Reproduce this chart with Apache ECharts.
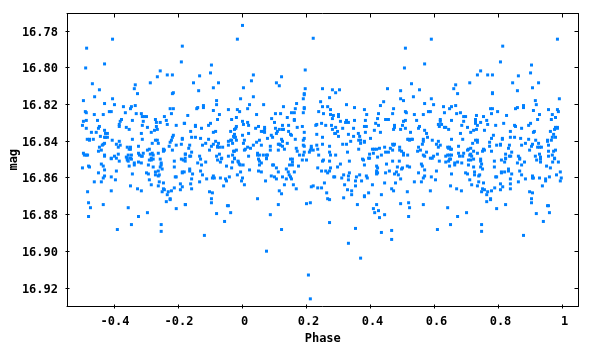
<!DOCTYPE html>
<html><head><meta charset="utf-8">
<script src="https://cdn.jsdelivr.net/npm/echarts@6/dist/echarts.min.js"></script>
<style>html,body{margin:0;padding:0;background:#fff}#c{width:600px;height:350px}</style>
</head><body><div id="c"></div>
<script>
const magTicks = [16.78,16.80,16.82,16.84,16.86,16.88,16.90,16.92];
const phaseTicks = [-0.4,-0.2,0,0.2,0.4,0.6,0.8,1];
// [phase, mag]
const upperLeft = [[-0.406,16.7843],[-0.487,16.7892],[-0.188,16.7881],[-0.431,16.7978],[-0.191,16.7967],[-0.490,16.8000],[-0.257,16.8016],[-0.235,16.8038],[-0.219,16.8038],[-0.266,16.8048],[-0.288,16.8081],[-0.469,16.8086],[-0.335,16.8092],[-0.338,16.8113],[-0.447,16.8119],[-0.216,16.8135],[-0.219,16.8140],[-0.328,16.8140],[-0.462,16.8157],[-0.406,16.8168],[-0.497,16.8178],[-0.431,16.8194],[-0.400,16.8200],[-0.372,16.8211],[-0.347,16.8211],[-0.335,16.8205],[-0.350,16.8222],[-0.226,16.8222],[-0.216,16.8222],[-0.416,16.8238],[-0.410,16.8238],[-0.491,16.8238],[-0.488,16.8244],[-0.332,16.8249],[-0.463,16.8254],[-0.435,16.8254],[-0.316,16.8249],[-0.366,16.8244],[-0.222,16.8249],[-0.313,16.8265],[-0.307,16.8265],[-0.300,16.8265],[-0.244,16.8265],[-0.272,16.8281],[-0.378,16.8281],[-0.453,16.8286],[-0.344,16.8286],[-0.488,16.8286],[-0.497,16.8291],[-0.310,16.8291],[-0.238,16.8286],[-0.382,16.8291],[-0.269,16.8297],[-0.257,16.8297],[-0.182,16.8302],[-0.500,16.8313],[-0.385,16.8308],[-0.385,16.8319],[-0.313,16.8313],[-0.447,16.8319],[-0.363,16.8324],[-0.297,16.8324],[-0.269,16.8319],[-0.235,16.8308],[-0.207,16.8313],[-0.450,16.8329],[-0.488,16.8329],[-0.354,16.8335],[-0.431,16.8340],[-0.266,16.8335],[-0.275,16.8340],[-0.285,16.8351],[-0.472,16.8351],[-0.457,16.8351],[-0.428,16.8357],[-0.422,16.8357],[-0.316,16.8357],[-0.216,16.8367],[-0.444,16.8373],[-0.428,16.8378],[-0.219,16.8378],[-0.485,16.8389],[-0.478,16.8389],[-0.478,16.8394],[-0.466,16.8389],[-0.431,16.8378],[-0.422,16.8378],[-0.407,16.8394],[-0.385,16.8400],[-0.344,16.8389],[-0.313,16.8389],[-0.272,16.8394],[-0.266,16.8394],[-0.222,16.8394],[-0.226,16.8405],[-0.188,16.8384],[-0.188,16.8389],[-0.431,16.8411],[-0.435,16.8416],[-0.438,16.8421],[-0.394,16.8416],[-0.382,16.8421],[-0.282,16.8411],[-0.263,16.8411],[-0.229,16.8427],[-0.207,16.8421],[-0.191,16.8416],[-0.447,16.8432],[-0.388,16.8432],[-0.360,16.8432],[-0.350,16.8432],[-0.354,16.8443],[-0.350,16.8443],[-0.325,16.8427],[-0.291,16.8443],[-0.247,16.8443],[-0.244,16.8448],[-0.247,16.8454],[-0.441,16.8448],[-0.450,16.8454],[-0.297,16.8448],[-0.497,16.8465],[-0.494,16.8475],[-0.488,16.8475],[-0.484,16.8475],[-0.431,16.8475],[-0.431,16.8481],[-0.388,16.8470],[-0.357,16.8475],[-0.347,16.8475],[-0.325,16.8465],[-0.322,16.8475],[-0.310,16.8465],[-0.316,16.8481],[-0.288,16.8470],[-0.282,16.8465],[-0.279,16.8475],[-0.263,16.8465],[-0.219,16.8448],[-0.179,16.8470],[-0.400,16.8481],[-0.363,16.8486],[-0.410,16.8492],[-0.394,16.8492],[-0.360,16.8492],[-0.350,16.8492],[-0.313,16.8481],[-0.285,16.8492],[-0.179,16.8492]];
const lowerLeft = [[-0.500,16.8545],[-0.481,16.8535],[-0.478,16.8540],[-0.441,16.8524],[-0.435,16.8535],[-0.431,16.8556],[-0.450,16.8572],[-0.431,16.8589],[-0.435,16.8600],[-0.410,16.8594],[-0.463,16.8621],[-0.441,16.8621],[-0.397,16.8610],[-0.394,16.8562],[-0.410,16.8495],[-0.385,16.8508],[-0.360,16.8502],[-0.347,16.8497],[-0.357,16.8508],[-0.354,16.8535],[-0.338,16.8518],[-0.338,16.8529],[-0.325,16.8513],[-0.316,16.8518],[-0.344,16.8578],[-0.300,16.8572],[-0.294,16.8578],[-0.294,16.8529],[-0.291,16.8502],[-0.285,16.8502],[-0.279,16.8497],[-0.279,16.8540],[-0.272,16.8567],[-0.263,16.8562],[-0.272,16.8583],[-0.263,16.8589],[-0.260,16.8583],[-0.257,16.8497],[-0.254,16.8518],[-0.254,16.8529],[-0.257,16.8540],[-0.251,16.8551],[-0.291,16.8610],[-0.260,16.8621],[-0.247,16.8627],[-0.285,16.8637],[-0.263,16.8643],[-0.350,16.8643],[-0.328,16.8659],[-0.316,16.8670],[-0.410,16.8670],[-0.484,16.8675],[-0.251,16.8675],[-0.244,16.8664],[-0.247,16.8659],[-0.232,16.8675],[-0.222,16.8670],[-0.235,16.8691],[-0.213,16.8654],[-0.194,16.8632],[-0.188,16.8648],[-0.194,16.8664],[-0.213,16.8540],[-0.213,16.8508],[-0.188,16.8567],[-0.188,16.8572],[-0.182,16.8567],[-0.210,16.8594],[-0.207,16.8594],[-0.191,16.8497],[-0.185,16.8502],[-0.179,16.8508],[-0.481,16.8735],[-0.475,16.8762],[-0.435,16.8745],[-0.481,16.8810],[-0.357,16.8762],[-0.325,16.8810],[-0.297,16.8789],[-0.347,16.8854],[-0.391,16.8881],[-0.254,16.8854],[-0.254,16.8891],[-0.238,16.8729],[-0.226,16.8713],[-0.226,16.8718],[-0.207,16.8767],[-0.179,16.8745]];
const upperMiddle = [[0,16.7768],[-0.016,16.7843],[0.221,16.7838],[-0.097,16.7984],[-0.100,16.8027],[0.196,16.8011],[-0.134,16.8043],[0.034,16.8038],[0.122,16.8048],[-0.075,16.8081],[-0.153,16.8081],[0.028,16.8070],[0.106,16.8081],[0.115,16.8097],[-0.091,16.8108],[0.003,16.8108],[-0.137,16.8124],[0.196,16.8113],[0.193,16.8140],[0.193,16.8146],[0.190,16.8168],[0.034,16.8157],[-0.006,16.8168],[-0.081,16.8178],[-0.081,16.8200],[0.022,16.8200],[0.066,16.8200],[0.169,16.8194],[-0.140,16.8216],[-0.143,16.8222],[-0.122,16.8205],[-0.122,16.8216],[0.128,16.8211],[0.016,16.8222],[0.165,16.8222],[0.193,16.8216],[0.193,16.8222],[-0.044,16.8227],[-0.016,16.8227],[-0.091,16.8232],[-0.009,16.8238],[0.153,16.8244],[0.162,16.8244],[0.190,16.8244],[0.044,16.8254],[0.103,16.8249],[0.119,16.8249],[-0.072,16.8254],[-0.171,16.8259],[-0.019,16.8270],[-0.078,16.8281],[-0.034,16.8281],[0.091,16.8276],[0.140,16.8270],[0.162,16.8281],[0.162,16.8286],[0,16.8291],[-0.181,16.8302],[-0.100,16.8302],[0.003,16.8308],[0.016,16.8297],[0.019,16.8313],[0.100,16.8297],[-0.147,16.8313],[-0.147,16.8319],[-0.106,16.8313],[-0.128,16.8329],[0.050,16.8319],[0.069,16.8324],[0.069,16.8335],[0.041,16.8329],[0.171,16.8324],[0.187,16.8319],[0.103,16.8329],[0.125,16.8313],[0.144,16.8313],[-0.021,16.8329],[-0.019,16.8319],[-0.025,16.8335],[0.115,16.8335],[0.125,16.8335],[0.128,16.8335],[-0.037,16.8346],[-0.084,16.8346],[-0.091,16.8351],[-0.162,16.8346],[0.059,16.8346],[0.065,16.8346],[0.069,16.8351],[0.109,16.8346],[0.106,16.8357],[0.144,16.8346],[0.150,16.8362],[0.153,16.8367],[-0.025,16.8362],[0.019,16.8357],[0.193,16.8351],[0,16.8367],[-0.028,16.8373],[-0.022,16.8378],[-0.025,16.8378],[-0.159,16.8378],[-0.147,16.8378],[-0.131,16.8384],[-0.106,16.8389],[0.078,16.8384],[0.090,16.8367],[0.094,16.8378],[0.122,16.8389],[0.125,16.8400],[0.053,16.8394],[0.044,16.8405],[0.006,16.8394],[0.003,16.8411],[-0.044,16.8400],[-0.037,16.8394],[-0.034,16.8394],[-0.031,16.8411],[-0.019,16.8394],[-0.084,16.8400],[-0.075,16.8411],[-0.115,16.8411],[-0.091,16.8416],[-0.125,16.8421],[-0.097,16.8427],[-0.078,16.8427],[-0.078,16.8432],[-0.072,16.8432],[-0.062,16.8432],[-0.044,16.8421],[0.034,16.8421],[0.059,16.8421],[0.087,16.8427],[0.112,16.8416],[0.115,16.8416],[0.119,16.8421],[0.125,16.8427],[0.140,16.8411],[0.165,16.8389],[0.193,16.8384],[0.190,16.8394],[0.190,16.8421],[0.193,16.8427],[0.215,16.8427],[0.215,16.8438],[0.212,16.8448],[0.221,16.8448],[0.168,16.8438],[0.171,16.8454],[-0.165,16.8421],[-0.168,16.8438],[0.016,16.8432],[0.025,16.8438],[-0.103,16.8448],[0.006,16.8448],[0.009,16.8443],[-0.019,16.8448],[-0.028,16.8454],[-0.025,16.8454],[0.087,16.8448],[0.112,16.8448],[0.131,16.8443],[-0.159,16.8459],[-0.178,16.8470],[-0.165,16.8481],[-0.162,16.8481],[-0.134,16.8481],[-0.081,16.8481],[-0.072,16.8470],[-0.065,16.8492],[-0.044,16.8481],[-0.031,16.8475],[-0.025,16.8492],[0.019,16.8481],[0.047,16.8465],[0.047,16.8475],[0.053,16.8475],[0.065,16.8475],[0.075,16.8475],[0.078,16.8475],[0.075,16.8492],[0.178,16.8475],[0.190,16.8475],[0.193,16.8459],[0.209,16.8459]];
const lowerMiddle = [[-0.165,16.8551],[-0.165,16.8562],[-0.156,16.8578],[-0.131,16.8562],[-0.125,16.8583],[-0.159,16.8605],[-0.162,16.8632],[-0.159,16.8659],[-0.112,16.8605],[-0.134,16.8621],[-0.091,16.8589],[-0.094,16.8600],[-0.088,16.8600],[-0.069,16.8600],[-0.053,16.8605],[-0.050,16.8616],[-0.041,16.8594],[-0.059,16.8643],[-0.140,16.8518],[-0.128,16.8529],[-0.115,16.8513],[-0.131,16.8497],[-0.078,16.8502],[-0.069,16.8513],[-0.066,16.8495],[-0.050,16.8535],[-0.034,16.8545],[-0.031,16.8513],[-0.013,16.8513],[-0.025,16.8495],[-0.014,16.8508],[-0.010,16.8524],[-0.007,16.8529],[0.002,16.8529],[-0.006,16.8567],[-0.016,16.8583],[0,16.8600],[-0.003,16.8616],[0.022,16.8556],[0.006,16.8637],[0.050,16.8497],[0.053,16.8508],[0.059,16.8518],[0.053,16.8529],[0.050,16.8562],[0.059,16.8567],[0.075,16.8495],[0.072,16.8616],[0.094,16.8529],[0.097,16.8529],[0.106,16.8545],[0.112,16.8567],[0.090,16.8589],[0.100,16.8594],[0.106,16.8605],[0.125,16.8594],[0.137,16.8605],[0.131,16.8637],[0.137,16.8551],[0.143,16.8567],[0.146,16.8583],[0.150,16.8594],[0.153,16.8605],[0.147,16.8529],[0.156,16.8529],[0.156,16.8513],[0.156,16.8497],[0.150,16.8497],[0.162,16.8567],[0.175,16.8535],[0.159,16.8637],[0.168,16.8659],[0.187,16.8502],[0.200,16.8502],[0.215,16.8648],[0.221,16.8643],[0.115,16.8670],[0.122,16.8686],[0.047,16.8713],[-0.103,16.8675],[-0.094,16.8681],[-0.097,16.8713],[-0.097,16.8735],[-0.178,16.8745],[-0.047,16.8751],[-0.044,16.8751],[-0.037,16.8789],[-0.081,16.8794],[-0.056,16.8837],[-0.119,16.8913],[0.112,16.8745],[0.087,16.8800],[0.122,16.8881],[0.075,16.8999],[0.206,16.9129],[0.212,16.9259],[0.200,16.8740],[0.212,16.8735]];
const upperRight = [[0.590,16.7843],[0.509,16.7892],[0.569,16.7978],[0.506,16.8000],[0.528,16.8086],[0.250,16.8113],[0.281,16.8119],[0.303,16.8119],[0.291,16.8135],[0.453,16.8113],[0.494,16.8124],[0.553,16.8119],[0.272,16.8162],[0.494,16.8168],[0.503,16.8178],[0.534,16.8157],[0.244,16.8184],[0.441,16.8184],[0.569,16.8194],[0.590,16.8168],[0.597,16.8200],[0.250,16.8211],[0.266,16.8211],[0.350,16.8216],[0.325,16.8200],[0.431,16.8205],[0.472,16.8222],[0.628,16.8211],[0.275,16.8227],[0.381,16.8227],[0.238,16.8238],[0.253,16.8249],[0.275,16.8254],[0.284,16.8259],[0.300,16.8254],[0.300,16.8265],[0.281,16.8276],[0.388,16.8254],[0.425,16.8249],[0.469,16.8249],[0.509,16.8238],[0.512,16.8244],[0.537,16.8254],[0.565,16.8254],[0.581,16.8238],[0.587,16.8238],[0.631,16.8244],[0.422,16.8276],[0.447,16.8281],[0.456,16.8281],[0.350,16.8286],[0.325,16.8286],[0.306,16.8291],[0.322,16.8297],[0.331,16.8297],[0.384,16.8286],[0.416,16.8302],[0.425,16.8313],[0.503,16.8291],[0.509,16.8286],[0.544,16.8286],[0.618,16.8281],[0.618,16.8291],[0.247,16.8302],[0.232,16.8308],[0.229,16.8313],[0.260,16.8313],[0.278,16.8313],[0.291,16.8324],[0.313,16.8329],[0.347,16.8329],[0.381,16.8319],[0.387,16.8319],[0.475,16.8313],[0.475,16.8324],[0.500,16.8313],[0.472,16.8335],[0.494,16.8335],[0.509,16.8329],[0.553,16.8319],[0.550,16.8329],[0.612,16.8308],[0.622,16.8308],[0.615,16.8319],[0.631,16.8324],[0.281,16.8335],[0.297,16.8346],[0.288,16.8357],[0.291,16.8357],[0.232,16.8362],[0.331,16.8362],[0.347,16.8373],[0.362,16.8357],[0.366,16.8373],[0.384,16.8351],[0.412,16.8340],[0.431,16.8351],[0.569,16.8340],[0.575,16.8357],[0.250,16.8378],[0.300,16.8373],[0.400,16.8384],[0.525,16.8351],[0.578,16.8378],[0.519,16.8389],[0.516,16.8389],[0.522,16.8394],[0.528,16.8389],[0.531,16.8389],[0.565,16.8389],[0.565,16.8400],[0.593,16.8394],[0.612,16.8400],[0.363,16.8394],[0.369,16.8394],[0.381,16.8400],[0.369,16.8411],[0.381,16.8405],[0.338,16.8400],[0.313,16.8416],[0.325,16.8416],[0.250,16.8416],[0.232,16.8421],[0.272,16.8427],[0.562,16.8416],[0.606,16.8416],[0.618,16.8421],[0.469,16.8416],[0.475,16.8416],[0.472,16.8421],[0.550,16.8432],[0.612,16.8432],[0.235,16.8443],[0.406,16.8443],[0.412,16.8443],[0.419,16.8443],[0.428,16.8438],[0.444,16.8432],[0.462,16.8438],[0.469,16.8448],[0.491,16.8432],[0.491,16.8448],[0.497,16.8454],[0.363,16.8443],[0.556,16.8448],[0.547,16.8454],[0.272,16.8459],[0.328,16.8459],[0.447,16.8459],[0.456,16.8459],[0.409,16.8465],[0.397,16.8470],[0.503,16.8465],[0.503,16.8475],[0.516,16.8475],[0.575,16.8459],[0.565,16.8475],[0.569,16.8481],[0.609,16.8470],[0.597,16.8481],[0.238,16.8475],[0.275,16.8475],[0.291,16.8475],[0.434,16.8475],[0.422,16.8486],[0.394,16.8492],[0.397,16.8492],[0.587,16.8492],[0.593,16.8492]];
const lowerRight = [[0.250,16.8508],[0.253,16.8502],[0.272,16.8508],[0.334,16.8508],[0.378,16.8502],[0.375,16.8497],[0.381,16.8529],[0.419,16.8535],[0.422,16.8545],[0.450,16.8524],[0.469,16.8508],[0.490,16.8508],[0.484,16.8540],[0.500,16.8545],[0.497,16.8551],[0.515,16.8535],[0.522,16.8540],[0.559,16.8524],[0.562,16.8535],[0.615,16.8508],[0.235,16.8545],[0.275,16.8545],[0.297,16.8540],[0.306,16.8524],[0.247,16.8562],[0.260,16.8562],[0.272,16.8562],[0.266,16.8572],[0.334,16.8572],[0.331,16.8589],[0.316,16.8583],[0.366,16.8583],[0.387,16.8589],[0.390,16.8600],[0.419,16.8562],[0.419,16.8572],[0.422,16.8572],[0.419,16.8578],[0.447,16.8572],[0.459,16.8562],[0.475,16.8578],[0.481,16.8567],[0.487,16.8583],[0.494,16.8605],[0.550,16.8572],[0.569,16.8556],[0.569,16.8589],[0.565,16.8600],[0.590,16.8594],[0.606,16.8562],[0.603,16.8610],[0.285,16.8594],[0.288,16.8594],[0.310,16.8600],[0.331,16.8610],[0.356,16.8594],[0.353,16.8616],[0.372,16.8616],[0.256,16.8627],[0.319,16.8637],[0.353,16.8643],[0.406,16.8637],[0.444,16.8627],[0.478,16.8627],[0.537,16.8621],[0.559,16.8621],[0.235,16.8654],[0.247,16.8654],[0.328,16.8664],[0.341,16.8670],[0.466,16.8659],[0.472,16.8670],[0.515,16.8675],[0.587,16.8670],[0.263,16.8681],[0.341,16.8691],[0.394,16.8681],[0.381,16.8697],[0.381,16.8702],[0.434,16.8691],[0.316,16.8708],[0.266,16.8713],[0.272,16.8718],[0.494,16.8740],[0.519,16.8735],[0.565,16.8745],[0.359,16.8745],[0.419,16.8745],[0.409,16.8767],[0.522,16.8762],[0.425,16.8778],[0.413,16.8789],[0.444,16.8800],[0.428,16.8816],[0.519,16.8810],[0.272,16.8843],[0.353,16.8875],[0.466,16.8886],[0.434,16.8897],[0.609,16.8881],[0.466,16.8935],[0.331,16.8956],[0.369,16.9037]];
const upperFar = [[0.984,16.7843],[0.813,16.7881],[0.806,16.7967],[0.903,16.7984],[0.744,16.8016],[0.900,16.8027],[0.734,16.8038],[0.766,16.8038],[0.781,16.8038],[0.862,16.8043],[0.710,16.8081],[0.844,16.8081],[0.925,16.8081],[0.666,16.8092],[0.660,16.8113],[0.906,16.8108],[0.859,16.8124],[0.672,16.8140],[0.781,16.8135],[0.781,16.8140],[0.990,16.8168],[0.915,16.8178],[0.918,16.8200],[0.653,16.8211],[0.666,16.8205],[0.647,16.8222],[0.775,16.8222],[0.781,16.8222],[0.853,16.8222],[0.859,16.8216],[0.878,16.8205],[0.878,16.8216],[0.956,16.8227],[0.984,16.8227],[0.987,16.8238],[0.909,16.8232],[0.797,16.8238],[0.778,16.8249],[0.669,16.8249],[0.681,16.8244],[0.928,16.8254],[0.968,16.8254],[0.691,16.8265],[0.697,16.8265],[0.731,16.8259],[0.753,16.8265],[0.825,16.8259],[0.978,16.8270],[0.965,16.8281],[0.728,16.8281],[0.728,16.8291],[0.763,16.8286],[0.653,16.8286],[0.691,16.8291],[0.922,16.8281],[0.728,16.8302],[0.744,16.8297],[0.766,16.8308],[0.816,16.8302],[0.900,16.8302],[0.685,16.8313],[0.734,16.8313],[0.791,16.8313],[0.850,16.8313],[0.853,16.8319],[0.894,16.8313],[0.635,16.8324],[0.703,16.8324],[0.872,16.8329],[0.978,16.8324],[0.984,16.8324],[0.984,16.8329],[0.644,16.8335],[0.722,16.8340],[0.731,16.8335],[0.756,16.8340],[0.975,16.8335],[0.837,16.8346],[0.912,16.8346],[0.909,16.8351],[0.962,16.8346],[0.681,16.8357],[0.713,16.8351],[0.784,16.8367],[0.837,16.8378],[0.850,16.8378],[0.812,16.8384],[0.812,16.8389],[0.869,16.8384],[0.894,16.8389],[0.778,16.8384],[0.653,16.8389],[0.688,16.8389],[0.972,16.8362],[0.968,16.8378],[0.978,16.8378],[0.916,16.8394],[0.953,16.8394],[0.953,16.8400],[0.965,16.8394],[0.728,16.8394],[0.734,16.8394],[0.734,16.8405],[0.719,16.8411],[0.772,16.8405],[0.884,16.8411],[0.872,16.8421],[0.906,16.8416],[0.925,16.8411],[0.794,16.8421],[0.806,16.8416],[0.806,16.8421],[0.834,16.8421],[0.772,16.8427],[0.675,16.8427],[0.903,16.8427],[0.956,16.8421],[0.922,16.8432],[0.928,16.8432],[0.934,16.8432],[0.831,16.8438],[0.641,16.8432],[0.647,16.8432],[0.644,16.8438],[0.650,16.8443],[0.653,16.8443],[0.713,16.8438],[0.706,16.8443],[0.703,16.8448],[0.753,16.8443],[0.750,16.8454],[0.756,16.8448],[0.778,16.8454],[0.722,16.8454],[0.897,16.8448],[0.956,16.8454],[0.978,16.8448],[0.972,16.8454],[0.841,16.8459],[0.691,16.8465],[0.675,16.8465],[0.822,16.8470],[0.734,16.8465],[0.713,16.8470],[0.928,16.8470],[0.968,16.8475],[0.956,16.8481],[0.653,16.8475],[0.647,16.8475],[0.641,16.8475],[0.635,16.8481],[0.678,16.8481],[0.688,16.8481],[0.710,16.8475],[0.716,16.8481],[0.834,16.8481],[0.838,16.8481],[0.915,16.8481],[0.931,16.8486],[0.862,16.8481],[0.975,16.8492],[0.822,16.8492],[0.866,16.8492]];
const lowerFar = [[0.647,16.8497],[0.650,16.8497],[0.644,16.8508],[0.635,16.8513],[0.663,16.8518],[0.663,16.8529],[0.672,16.8513],[0.685,16.8518],[0.647,16.8535],[0.706,16.8502],[0.713,16.8502],[0.722,16.8497],[0.744,16.8497],[0.744,16.8508],[0.747,16.8524],[0.706,16.8529],[0.722,16.8540],[0.744,16.8540],[0.750,16.8551],[0.787,16.8508],[0.787,16.8540],[0.809,16.8502],[0.822,16.8495],[0.819,16.8513],[0.866,16.8497],[0.859,16.8518],[0.872,16.8529],[0.881,16.8513],[0.919,16.8502],[0.931,16.8513],[0.931,16.8497],[0.950,16.8535],[0.969,16.8513],[0.987,16.8513],[0.975,16.8495],[0.962,16.8545],[0.831,16.8551],[0.831,16.8562],[0.809,16.8567],[0.809,16.8572],[0.819,16.8567],[0.841,16.8578],[0.866,16.8562],[0.872,16.8583],[0.653,16.8578],[0.697,16.8572],[0.703,16.8578],[0.725,16.8567],[0.725,16.8583],[0.741,16.8583],[0.738,16.8589],[0.791,16.8594],[0.794,16.8594],[0.837,16.8605],[0.884,16.8605],[0.906,16.8589],[0.906,16.8600],[0.909,16.8600],[0.928,16.8600],[0.947,16.8605],[0.947,16.8616],[0.959,16.8594],[0.981,16.8583],[0.993,16.8567],[0.996,16.8600],[0.993,16.8616],[0.710,16.8610],[0.738,16.8621],[0.753,16.8627],[0.806,16.8632],[0.837,16.8632],[0.862,16.8621],[0.650,16.8643],[0.716,16.8637],[0.734,16.8643],[0.813,16.8648],[0.669,16.8659],[0.684,16.8670],[0.750,16.8659],[0.756,16.8664],[0.747,16.8675],[0.766,16.8675],[0.763,16.8691],[0.778,16.8670],[0.788,16.8654],[0.806,16.8664],[0.837,16.8659],[0.937,16.8643],[0.897,16.8675],[0.906,16.8681],[0.775,16.8713],[0.775,16.8718],[0.763,16.8729],[0.903,16.8713],[0.903,16.8735],[0.822,16.8745],[0.794,16.8767],[0.641,16.8762],[0.700,16.8789],[0.672,16.8810],[0.650,16.8854],[0.747,16.8854],[0.747,16.8891],[0.878,16.8913],[0.918,16.8794],[0.940,16.8837],[0.953,16.8751],[0.956,16.8751],[0.959,16.8789]];

const points = [].concat(upperLeft, lowerLeft, upperMiddle, lowerMiddle, upperRight, lowerRight, upperFar, lowerFar);
const font = {fontFamily:'"DejaVu Sans Mono"', fontWeight:'bold', fontSize:12, color:'#000'};
const line = {show:true, onZero:false, lineStyle:{color:'#000', width:1}};
const xMin = -0.5483, xMax = 1.0498, yMin = 16.7703, yMax = 16.9298;
const chart = echarts.init(document.getElementById('c'), null, {renderer:'canvas'});
chart.setOption({
  animation:false,
  backgroundColor:'#fff',
  grid:{left:65.5, right:21.5, top:13.5, bottom:41.5},
  xAxis:[
    {type:'value', min:xMin, max:xMax, position:'bottom', name:'Phase', nameLocation:'middle', nameGap:27,
      nameTextStyle:font, axisLine:line, axisTick:{show:false}, splitLine:{show:false}, axisLabel:{show:false}},
    {type:'value', min:xMin, max:xMax, position:'top', axisLine:line, axisTick:{show:false}, splitLine:{show:false}, axisLabel:{show:false}}
  ],
  yAxis:[
    {type:'value', min:yMin, max:yMax, inverse:true, position:'left', name:'mag', nameLocation:'middle', nameGap:47, nameRotate:90,
      nameTextStyle:font, axisLine:line, axisTick:{show:false}, splitLine:{show:false}, axisLabel:{show:false}},
    {type:'value', min:yMin, max:yMax, inverse:true, position:'right', axisLine:line, axisTick:{show:false}, splitLine:{show:false}, axisLabel:{show:false}}
  ],
  series:[
    {type:'scatter', xAxisIndex:0, yAxisIndex:0, symbol:'rect', symbolSize:3, silent:true, itemStyle:{color:'#0080ff', opacity:1}, data:points}
  ]
});
// tick marks and labels, placed through the axes' own scale
const g = [];
const yAt = v => chart.convertToPixel({yAxisIndex:0}, v);
const xAt = v => chart.convertToPixel({xAxisIndex:0}, v);
const L = 65.5, R = 578.5, T = 13.5, B = 308.5, len = 4;
magTicks.forEach(v => {
  const y = Math.round(yAt(v) - 0.5) + 0.5;
  g.push({type:'line', shape:{x1:L,y1:y,x2:L+len,y2:y}, style:{stroke:'#000',lineWidth:1}});
  g.push({type:'line', shape:{x1:R,y1:y,x2:R-len,y2:y}, style:{stroke:'#000',lineWidth:1}});
  g.push({type:'text', x:58, y:y+1, style:{text:v.toFixed(2), align:'right', verticalAlign:'middle', font:'bold 12px "DejaVu Sans Mono"', fill:'#000'}});
});
phaseTicks.forEach(v => {
  const x = Math.round(xAt(v) - 0.5) + 0.5;
  g.push({type:'line', shape:{x1:x,y1:B,x2:x,y2:B-len}, style:{stroke:'#000',lineWidth:1}});
  g.push({type:'line', shape:{x1:x,y1:T,x2:x,y2:T+len}, style:{stroke:'#000',lineWidth:1}});
  g.push({type:'text', x:x+(v<0?0.5:2), y:322, style:{text:String(v), align:'center', verticalAlign:'middle', font:'bold 12px "DejaVu Sans Mono"', fill:'#000'}});
});
chart.setOption({graphic:{elements:g}});
</script></body></html>
